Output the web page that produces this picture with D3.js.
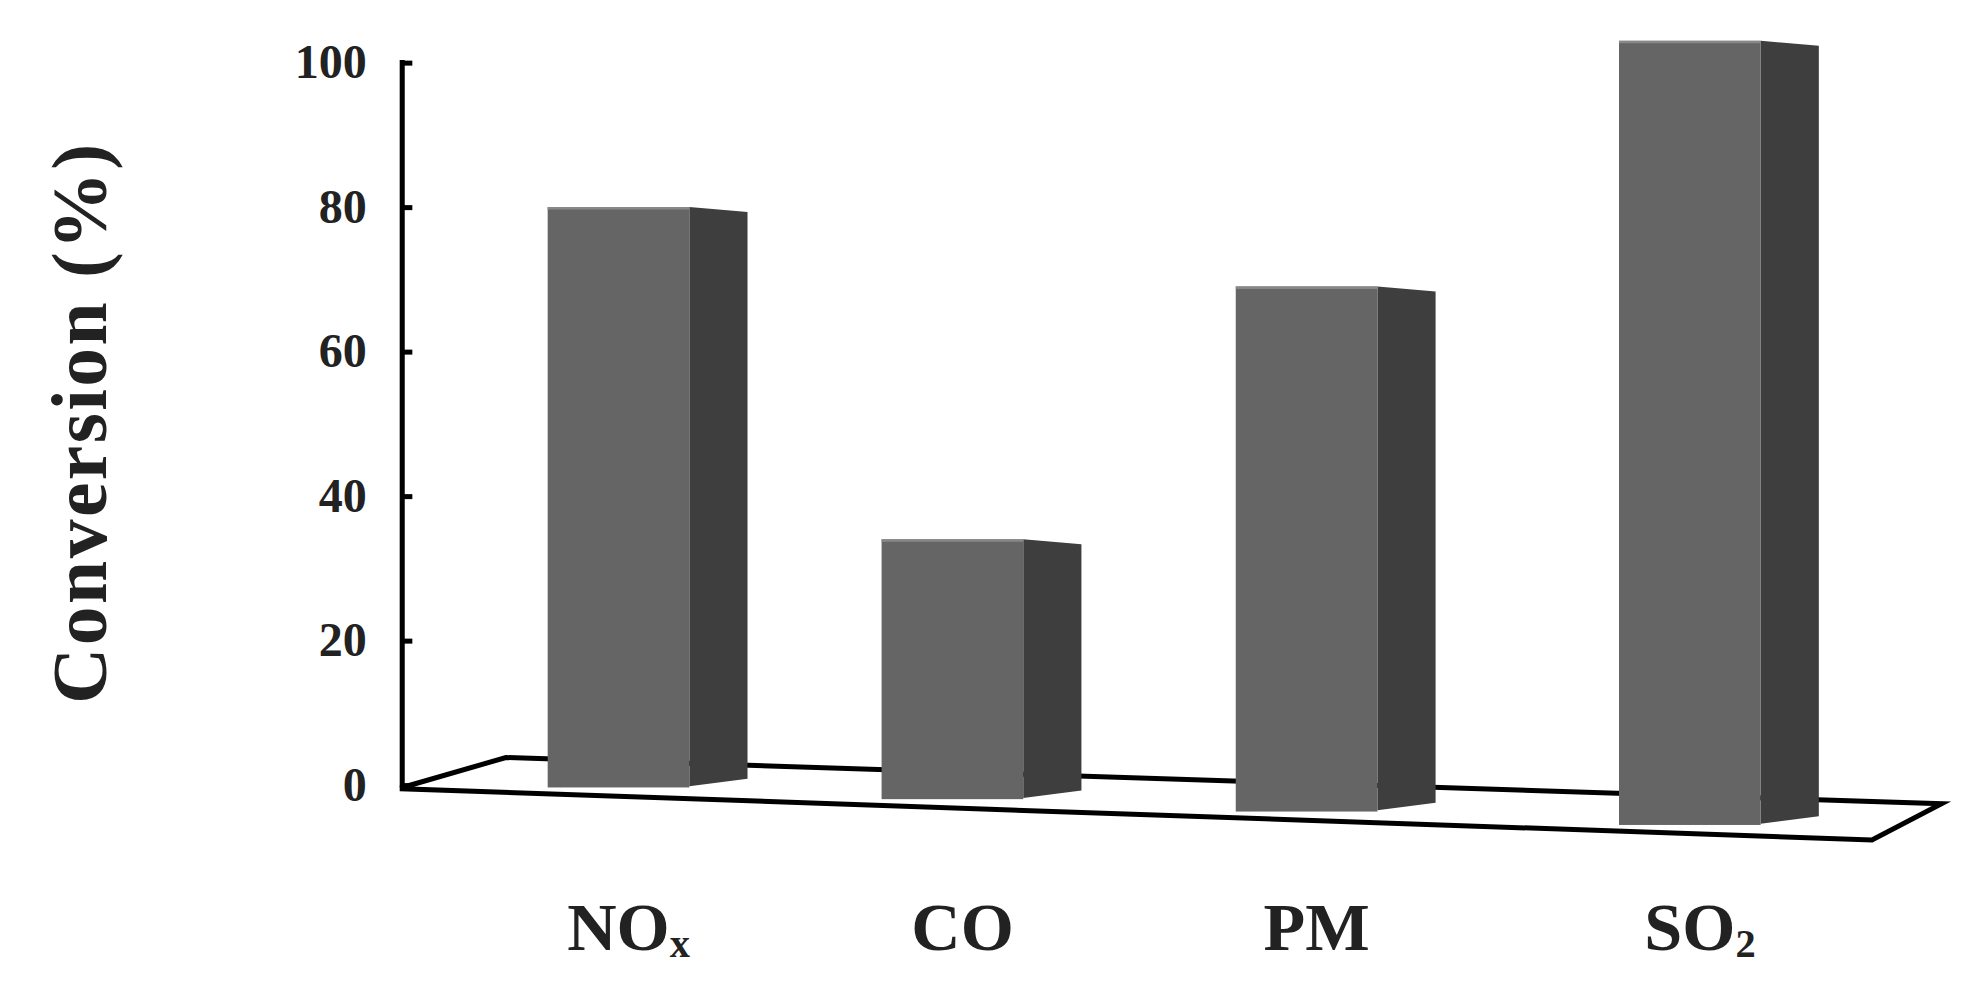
<!DOCTYPE html><html><head><meta charset="utf-8">
<script src="https://cdn.jsdelivr.net/npm/d3@7"></script>
<style>body{margin:0;background:#fff}</style></head><body>
<svg id="c" width="1982" height="1000" viewBox="0 0 1567 800" preserveAspectRatio="none"></svg>
<script>
const categories = ["NOx","CO","PM","SO2"];
const labelMain = ["NO","CO","PM","SO"];
const labelSub = ["x","","","2"];
const values = [80, 34, 69, 103];
const tickValues = [0,20,40,60,80,100];

const svg = d3.select("#c");
const font = "'Liberation Serif','DejaVu Serif',serif";
const y = d3.scaleLinear().domain([0,100]).range([628,50]);
const x = d3.scaleOrdinal().domain(categories).range([433,697,977,1280]);
const base = d3.scaleLinear().domain([433,1280]).range([625,655]);
const fw = 112, sw = 46, sd = 4;

const g = svg.append("g").attr("fill","none").attr("stroke","#000").attr("stroke-width",4);
g.append("path").attr("d","M318,630 L400,606 L1535,643 L1480,672 L318,631 Z");

svg.append("g").attr("transform","translate(318,0)")
  .call(d3.axisLeft(y).tickValues(tickValues).tickSize(8).tickPadding(20))
  .call(a=>{a.select(".domain").attr("stroke-width",4).attr("d","M0,48V630");
    a.selectAll(".tick line").attr("stroke-width",4).attr("x2",8).attr("x1",0);
    a.selectAll("text").attr("font-family",font).attr("font-weight","bold").attr("font-size",38).attr("fill","#222");});

categories.forEach((c,i)=>{
  const x0 = x(c), top = y(values[i]), bot2 = base(x0+fw);
  svg.append("path").attr("fill","#3e3e3e")
    .attr("d",`M${x0+fw},${top} L${x0+fw+sw},${top+sd} L${x0+fw+sw},${bot2-6} L${x0+fw},${bot2}Z`);
  svg.append("rect").attr("x",x0).attr("y",top).attr("width",fw).attr("height",bot2-top+1).attr("fill","#656565");
  svg.append("line").attr("x1",x0).attr("x2",x0+fw).attr("y1",top+1).attr("y2",top+1).attr("stroke","#888").attr("stroke-width",2);
});

categories.forEach((c,i)=>{
  const t = svg.append("text").attr("x",x(c)+fw/2+8).attr("y",760).attr("text-anchor","middle")
    .attr("font-family",font).attr("font-weight","bold").attr("font-size",54).attr("fill","#222");
  t.append("tspan").text(labelMain[i]);
  if(labelSub[i]) t.append("tspan").attr("font-size",32).attr("dy",6).text(labelSub[i]);
});

svg.append("text").attr("transform","translate(84,338) rotate(-90)").attr("text-anchor","middle")
  .attr("font-family",font).attr("font-weight","bold").attr("font-size",62).attr("fill","#222").attr("letter-spacing",2).text("Conversion (%)");
</script></body></html>
